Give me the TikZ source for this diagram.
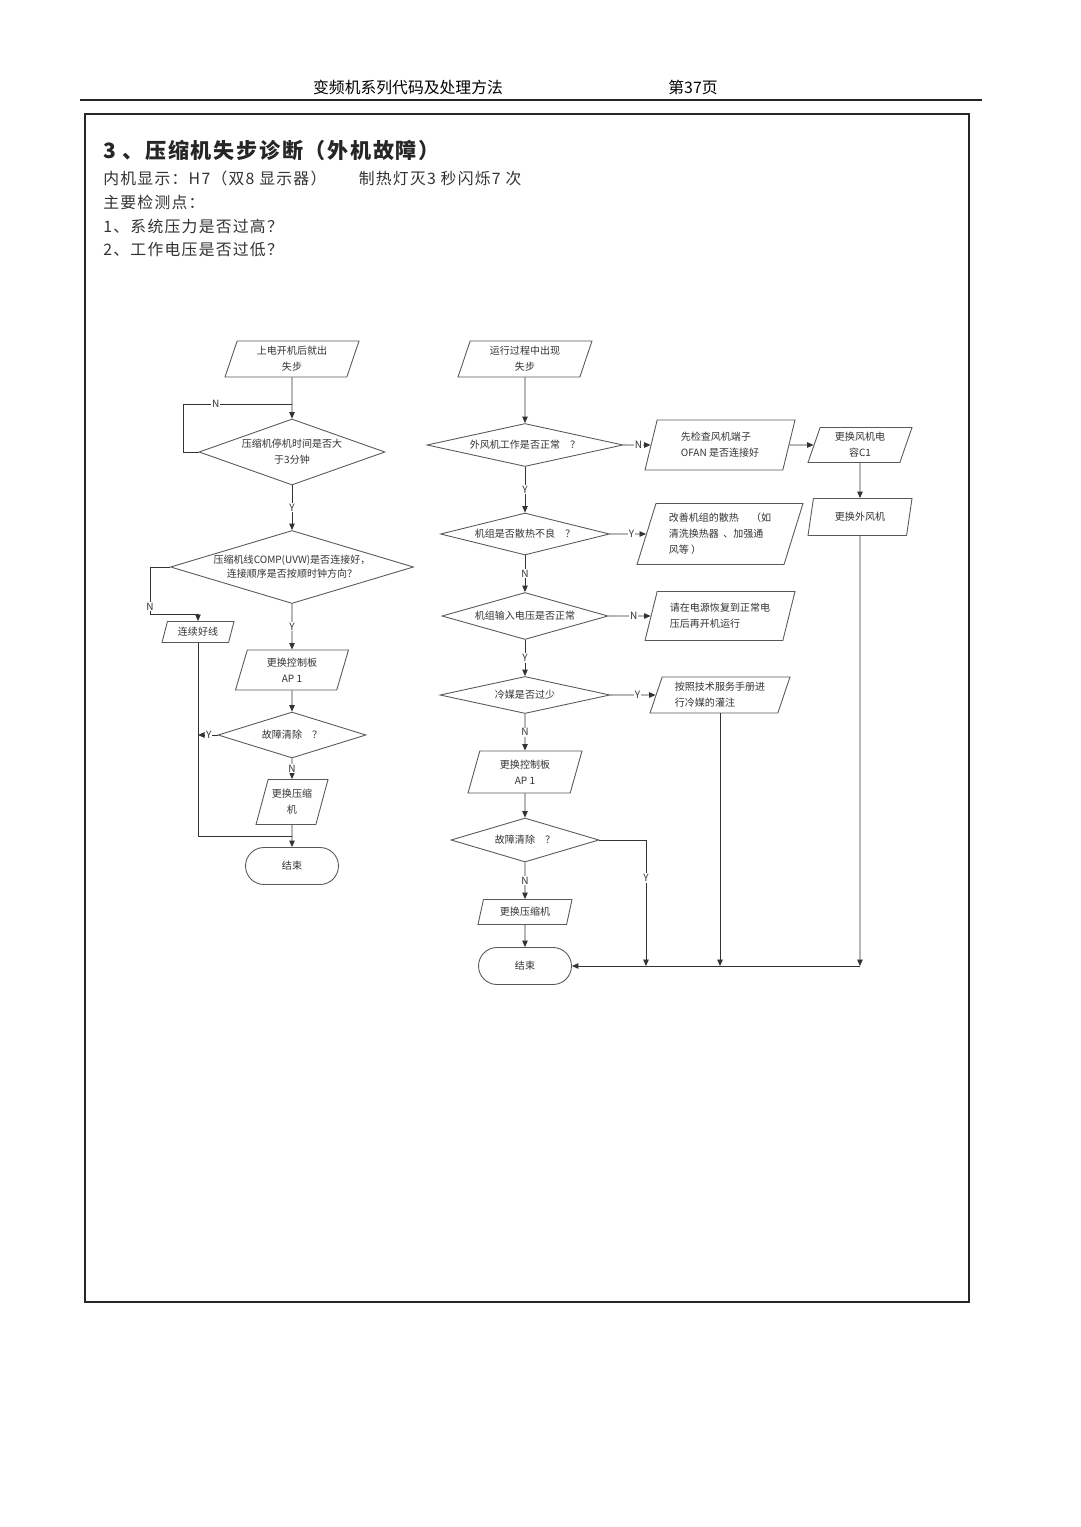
\documentclass[tikz,border=0pt]{standalone}
\usepackage{fontspec}
\setmainfont{Noto Sans CJK SC}
\newfontfamily\spacedtext[LetterSpace=8]{Noto Sans CJK SC}
\usetikzlibrary{positioning, arrows.meta, shapes.geometric}

\newcommand\chartfont{\fontsize{5.7}{9}\selectfont}

\begin{document}
\begin{tikzpicture}[
    x=0.02cm, y=-0.02cm,
    >={Triangle[length=1.3mm, width=1.1mm]},
    line/.style={draw=black!80, line width=0.5pt},
    flow/.style={line, ->},
    io_box/.style={trapezium, trapezium left angle=67, trapezium right angle=113,
        trapezium stretches body, draw=black!65, line width=0.5pt, inner sep=1pt,
        align=center, font=\chartfont, text=black!80},
    decision/.style={diamond, draw=black!65, line width=0.5pt, inner sep=0pt,
        align=center, font=\chartfont, text=black!80},
    terminal/.style={rectangle, rounded corners=0.37cm, draw=black!65, line width=0.5pt,
        minimum width=1.86cm, minimum height=0.74cm, font=\chartfont, text=black!80},
    yn/.style={fill=white, inner sep=0.6pt, font=\chartfont, text=black!80},
    bodytext/.style={anchor=west, inner sep=0pt, font=\spacedtext\fontsize{9}{11}\selectfont, text=black!80}
]
\useasboundingbox[fill=white] (0,0) rectangle (1080,1527);

% page header and frame
\node[inner sep=0pt, font=\fontsize{9}{11}\selectfont] (head_title) at (408,87) {变频机系列代码及处理方法};
\node[inner sep=0pt, font=\fontsize{9}{11}\selectfont] (head_page) at (693,87) {第37页};
\draw[line width=1.4pt, black!85] (80,100) -- (982,100);
\draw[line width=1.4pt, black!85] (85,114) rectangle (969,1302);

% section text
\node[bodytext, font=\spacedtext\fontsize{12}{14}\selectfont\bfseries, text=black!85] (sec_title) at (103,151) {3 、压缩机失步诊断（外机故障）};
\node[bodytext] (sec_disp) at (103,178) {内机显示：H7（双8 显示器）\hspace{0.65cm}制热灯灭3 秒闪烁7 次};
\node[bodytext] (sec_main) at (103,202) {主要检测点：};
\node[bodytext] (sec_one) at (103,226) {1、系统压力是否过高？};
\node[bodytext] (sec_two) at (103,250) {2、工作电压是否过低？};

% left chart: step-out right after power-on
\node[io_box, minimum width=2.68cm, minimum height=0.72cm] (start_l) at (292,359) {上电开机后就出\\失步};
\node[decision, minimum width=3.72cm, minimum height=1.32cm, aspect=2.8] (wait_l) at (292,452) {压缩机停机时间是否大\\于3分钟};
\node[decision, minimum width=4.86cm, minimum height=1.46cm, aspect=3.3, font=\fontsize{5.7}{8}\selectfont] (wire_l) at (292,567) {压缩机线COMP(UVW)是否连接好，\\连接顺序是否按顺时钟方向？};
\node[io_box, minimum width=1.44cm, minimum height=0.42cm] (fix_l) at (198,632) {连续好线};
\node[io_box, minimum width=2.26cm, minimum height=0.8cm] (board_l) at (292,670) {更换控制板\\AP 1};
\node[decision, minimum width=2.96cm, minimum height=0.92cm, aspect=3.2] (clear_l) at (292,735) {故障清除\quad ？};
\node[io_box, minimum width=1.44cm, minimum height=0.9cm] (comp_l) at (292,802) {更换压缩\\机};
\node[terminal] (end_l) at (292,866) {结束};
\coordinate (loop_l) at (183,404);
\coordinate (bend_l) at (150,614);
\coordinate (join_l) at (292,836);

\draw[flow] (start_l) -- (wait_l);
\draw[line] (wait_l.west) -| (loop_l) -- node[yn, pos=0.3]{N} (start_l.south |- loop_l);
\draw[flow] (wait_l) -- node[yn]{Y} (wire_l);
\draw[flow] (wire_l.west) -| node[yn, pos=0.92]{N} (bend_l) -| (fix_l);
\draw[flow] (wire_l) -- node[yn]{Y} (board_l);
\draw[flow] (board_l) -- (clear_l);
\draw[flow] (clear_l.west) -- node[yn, pos=0.45]{Y} (clear_l.west -| fix_l.south);
\draw[flow] (clear_l) -- node[yn]{N} (comp_l);
\draw[flow] (comp_l) -- (end_l);
\draw[line] (fix_l.south) |- (join_l);

% right chart: step-out during operation
\node[io_box, minimum width=2.68cm, minimum height=0.72cm] (start_r) at (525,359) {运行过程中出现\\失步};
\node[decision, minimum width=3.92cm, minimum height=0.86cm, aspect=4.5] (fan_r) at (525,445) {外风机工作是否正常\quad ？};
\node[io_box, minimum width=3.0cm, minimum height=1.0cm, align=left] (ofan_r) at (720,445) {先检查风机端子\\OFAN 是否连接好};
\node[io_box, minimum width=2.08cm, minimum height=0.7cm] (cap_r) at (860,445) {更换风机电\\容C1};
\node[io_box, minimum width=2.08cm, minimum height=0.74cm] (motor_r) at (860,517) {更换外风机};
\node[decision, minimum width=3.38cm, minimum height=0.84cm, aspect=4] (heat_r) at (525,534) {机组是否散热不良\quad ？};
\node[io_box, minimum width=3.32cm, minimum height=1.22cm, align=left] (clean_r) at (720,534) {改善机组的散热\quad\ （如\\清洗换热器\ \ 、加强通\\风等 ）};
\node[decision, minimum width=3.32cm, minimum height=0.94cm, aspect=3.5] (volt_r) at (525,616) {机组输入电压是否正常};
\node[io_box, minimum width=3.0cm, minimum height=0.98cm, align=left] (power_r) at (720,616) {请在电源恢复到正常电\\压后再开机运行};
\node[decision, minimum width=3.4cm, minimum height=0.74cm, aspect=4.6] (gas_r) at (525,695) {冷媒是否过少};
\node[io_box, minimum width=2.8cm, minimum height=0.72cm, align=left] (charge_r) at (720,695) {按照技术服务手册进\\行冷媒的灌注};
\node[io_box, minimum width=2.28cm, minimum height=0.84cm] (board_r) at (525,772) {更换控制板\\AP 1};
\node[decision, minimum width=2.96cm, minimum height=0.88cm, aspect=3.4] (clear_r) at (525,840) {故障清除\quad ？};
\node[io_box, minimum width=1.88cm, minimum height=0.5cm] (comp_r) at (525,912) {更换压缩机};
\node[terminal] (end_r) at (525,966) {结束};
\coordinate (bus_y) at (646,966);
\coordinate (bus_r) at (860,966);

\draw[flow] (start_r) -- (fan_r);
\draw[flow] (fan_r) -- node[yn, pos=0.55]{N} (ofan_r);
\draw[flow] (ofan_r) -- (cap_r);
\draw[flow] (cap_r) -- (motor_r);
\draw[flow] (fan_r) -- node[yn]{Y} (heat_r);
\draw[flow] (heat_r) -- node[yn, pos=0.6]{Y} (clean_r);
\draw[flow] (heat_r) -- node[yn]{N} (volt_r);
\draw[flow] (volt_r) -- node[yn, pos=0.6]{N} (power_r);
\draw[flow] (volt_r) -- node[yn]{Y} (gas_r);
\draw[flow] (gas_r) -- node[yn, pos=0.6]{Y} (charge_r);
\draw[flow] (gas_r) -- node[yn]{N} (board_r);
\draw[flow] (board_r) -- (clear_r);
\draw[flow] (clear_r) -- node[yn]{N} (comp_r);
\draw[flow] (comp_r) -- (end_r);
\draw[flow] (clear_r.east) -| node[yn, pos=0.65]{Y} (bus_y);
\draw[flow] (charge_r.south) -- (charge_r.south |- bus_r);
\draw[flow] (motor_r) -- (bus_r);
\draw[flow] (bus_r) -- (end_r);
\end{tikzpicture}
\end{document}
